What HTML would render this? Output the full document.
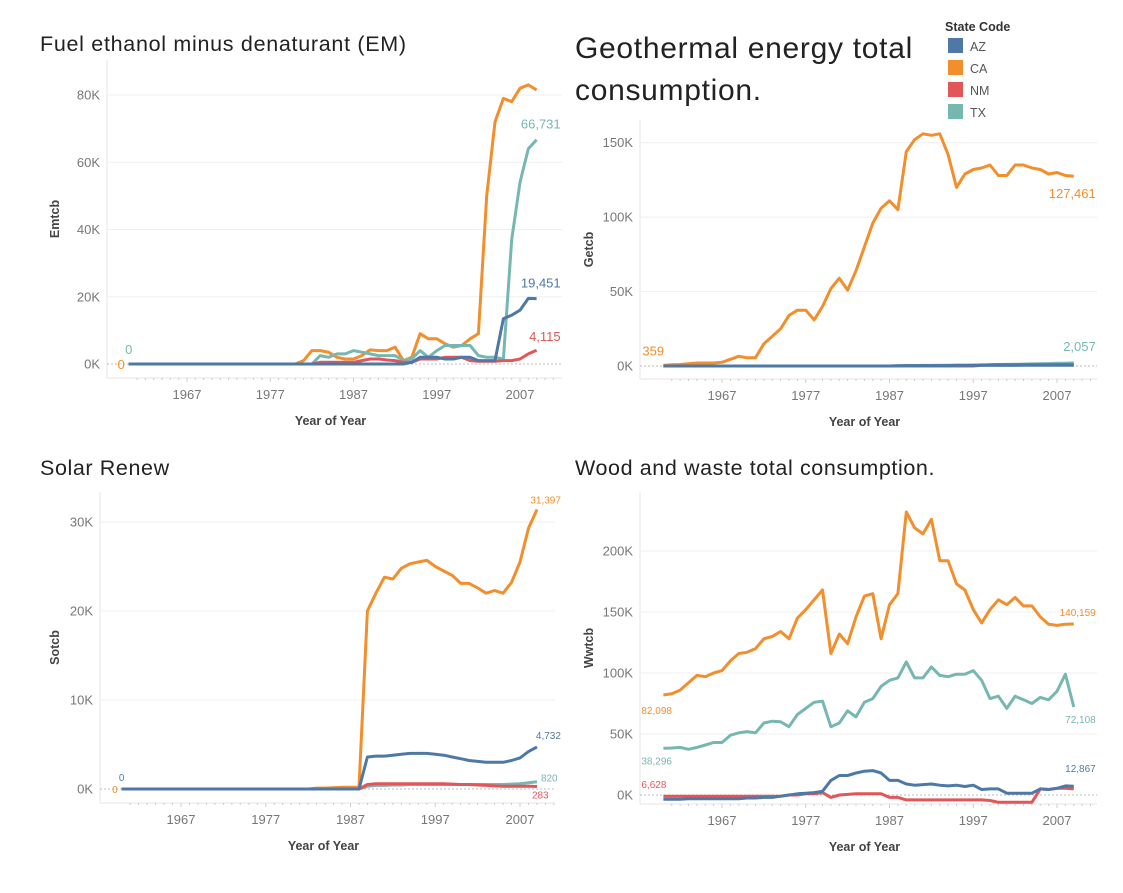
<!DOCTYPE html>
<html><head><meta charset="utf-8">
<style>
body{margin:0;background:#fff;width:1123px;height:893px;overflow:hidden;font-family:"Liberation Sans",sans-serif}
svg{position:absolute;left:0;top:0}
</style></head>
<body>
<svg id="chart" width="1123" height="893"></svg>
<script>
const years=[];for(let y=1960;y<=2009;y++)years.push(y);
const xTickYears=[1967,1977,1987,1997,2007];
const states=["AZ","CA","NM","TX"];
const colors={AZ:"#4e79a7",CA:"#f28e2b",NM:"#e15759",TX:"#76b7b2"};
// Ethanol (K)
const ethCA=[0,0,0,0,0,0,0,0,0,0,0,0,0,0,0,0,0,0,0,0,0,1,4,4,3.5,2,1.5,1.5,2.5,4.2,4,4,5,1,2,9,7.5,7.5,6,5,5.5,7.5,9,50,72,79,78,82,83,81.5];
const ethTX=[0,0,0,0,0,0,0,0,0,0,0,0,0,0,0,0,0,0,0,0,0,0,0,2.5,2,3,3,4,3.5,3,2.5,2.5,2.5,1,1.5,4,2,4,5.5,5.5,5.5,5.5,2.5,2,2,1.5,37,54,64,66.7];
const ethAZ=[0,0,0,0,0,0,0,0,0,0,0,0,0,0,0,0,0,0,0,0,0,0,0,0,0,0,0,0,0,0,0,0,0,0,0.5,2,2,2,1.5,1.5,2,2,1,1,1,13.5,14.5,16,19.5,19.45];
const ethNM=[0,0,0,0,0,0,0,0,0,0,0,0,0,0,0,0,0,0,0,0,0,0,0,0.5,0.5,0.5,0.5,0.5,1,1.5,1.5,1.2,1,0.5,0.5,1.5,1.5,1.5,2,2,2,1,0.8,0.8,0.8,1,1,1.5,3,4.1];
const ethTicks=[0,20,40,60,80];
// Geothermal (K)
const geoCA=[0.4,0.8,1,1.5,2,2,2,2.5,4.5,6.5,5.5,5.5,15,20,25,34,37.5,37.5,31,40,52,59,51,64,80,96,106,111,105,144,152,156,155,156,142,120,129,132,133,135,128,128,135,135,133,132,129,130,128,127.5];
const geoAZ=[0,0,0,0,0,0,0,0,0,0,0,0,0,0,0,0,0,0,0,0,0,0,0,0,0,0,0,0,0.2,0.3,0.3,0.3,0.3,0.3,0.3,0.4,0.4,0.4,0.4,0.4,0.4,0.4,0.4,0.5,0.5,0.5,0.5,0.5,0.5,0.5];
const geoNM=[0,0,0,0,0,0,0,0,0,0,0,0,0,0,0,0,0,0,0,0,0,0,0,0,0,0,0,0,0,0,0,0,0,0,0,0,0,0,0.5,0.8,1,1,1,1,1,1,1,1,1,1];
const geoTX=[0,0,0,0,0,0,0,0,0,0,0,0,0,0,0,0,0,0,0,0,0,0,0,0,0,0,0,0,0.2,0.3,0.3,0.4,0.4,0.5,0.5,0.6,0.6,0.7,0.8,0.9,1,1.1,1.2,1.3,1.4,1.5,1.6,1.8,1.9,2.06];
const geoTicks=[0,50,100,150];
// Solar (K)
const solCA=[0,0,0,0,0,0,0,0,0,0,0,0,0,0,0,0,0,0,0,0,0,0,0,0.1,0.1,0.15,0.2,0.2,0.2,20,22,23.8,23.6,24.8,25.3,25.5,25.7,25,24.5,24,23.1,23.1,22.6,22,22.3,22,23.2,25.5,29.3,31.4];
const solAZ=[0,0,0,0,0,0,0,0,0,0,0,0,0,0,0,0,0,0,0,0,0,0,0,0,0,0,0,0,0,3.6,3.7,3.7,3.8,3.9,4,4,4,3.9,3.8,3.6,3.4,3.2,3.1,3,3,3,3.2,3.5,4.2,4.73];
const solNM=[0,0,0,0,0,0,0,0,0,0,0,0,0,0,0,0,0,0,0,0,0,0,0,0,0,0,0,0,0,0.5,0.6,0.6,0.6,0.6,0.6,0.6,0.6,0.6,0.6,0.55,0.5,0.5,0.45,0.4,0.35,0.3,0.3,0.3,0.3,0.28];
const solTX=[0,0,0,0,0,0,0,0,0,0,0,0,0,0,0,0,0,0,0,0,0,0,0,0,0,0,0,0,0,0.3,0.4,0.4,0.45,0.45,0.5,0.5,0.5,0.5,0.5,0.5,0.5,0.5,0.5,0.5,0.5,0.5,0.55,0.6,0.7,0.82];
const solTicks=[0,10,20,30];
// Wood & waste (K)
const wwCA=[82,83,86,92,98,97,100,102,110,116,117,120,128,130,134,128,145,152,160,168,116,132,124,146,163,165,128,156,165,232,219,214,226,192,192,173,168,152,141,152,160,156,162,155,155,146,140,139,140,140.2];
const wwTX=[38.3,38.5,39,37.5,39,41,43,43,49,51,52,51,59,60.5,60,56,66,71,76,77,56,59,69,64,76,79,89,94,96,109,96,96,105,98,97,99,99,102,94,79,81,71,81,78,75,80,78,85,99,72.1];
const wwAZ=[-3.5,-3.5,-3.5,-3,-3,-3,-3,-3,-3,-3,-2.5,-2.5,-2,-2,-1,0,1,1.5,2,3,12,16,16,18,19.5,20,18,12,12,9,8,8.5,9,8,7.5,8,7,8,4.5,5,5,1.5,1.5,1.5,1.5,5,4.5,5.5,7.5,7.2];
const wwNM=[-1,-1,-1,-1,-1,-1,-1,-1,-1,-1,-1,-1,-1,-1,-1,0,0,1,1,2,-2,0,0.5,1,1,1,1,-2,-2,-4,-4,-4,-4,-4,-4,-4,-4,-4,-4,-4.5,-6,-6,-6,-6,-6,5,4.5,5.5,5.5,5];
const wwTicks=[0,50,100,150,200];

const NS="http://www.w3.org/2000/svg";
const root=document.getElementById('chart');
function el(tag,attrs,parent){const e=document.createElementNS(NS,tag);for(const k in attrs)e.setAttribute(k,attrs[k]);(parent||root).appendChild(e);return e;}

function drawChart(c){
  const g=el('g',{});
  
  
  const xs=v=>c.x0+(v-1967)*(c.x1-c.x0)/40;
  const ys=v=>c.y0+(v)*(c.yTop-c.y0)/c.topVal;
  c.title.forEach((t,i)=>{const tt=el('text',{x:c.tx,y:c.ty+i*c.tlh,'font-size':c.tfs,fill:'#222','letter-spacing':c.tls},g);tt.textContent=t;
    
    });
  el('line',{x1:c.px0,y1:c.ptop,x2:c.px0,y2:c.pbot,stroke:'#e6e6e6'},g);
  el('line',{x1:c.px0,y1:c.pbot,x2:c.px1,y2:c.pbot,stroke:'#e6e6e6'},g);
  c.ticks.forEach(v=>{
    const y=ys(v);
    if(v!==0)el('line',{x1:c.px0,y1:y,x2:c.px1,y2:y,stroke:'#efefef'},g);
    else el('line',{x1:c.px0,y1:y,x2:c.px1,y2:y,stroke:'#bbb','stroke-dasharray':'2,2'},g);
    const t=el('text',{x:c.px0-7,y:y+4.5,'text-anchor':'end','font-size':13,fill:'#777'},g);t.textContent=v+'K';
    
    
  });
  for(let yr=1961;yr<=2011;yr++){const x=xs(yr);if(x<c.px1&&x>c.px0)el('line',{x1:x,y1:c.pbot,x2:x,y2:c.pbot+((yr-1967)%10===0?4:2),stroke:'#ccc'},g);}
  xTickYears.forEach(yr=>{const t=el('text',{x:xs(yr),y:c.pbot+21,'text-anchor':'middle','font-size':13,fill:'#777'},g);t.textContent=yr;
    
    });
  const xt=el('text',{x:(c.px0+c.px1)/2-4,y:c.pbot+47,'text-anchor':'middle','font-size':12.5,'font-weight':'bold',fill:'#444'},g);xt.textContent='Year of Year';
  
  
  const yt=el('text',{x:0,y:0,'text-anchor':'middle','font-size':12.5,'font-weight':'bold',fill:'#444',transform:`translate(${c.ytx},${(c.ptop+c.pbot)/2}) rotate(-90)`},g);yt.textContent=c.ytitle;
  
  
  c.series.forEach(s=>{
    const d=s.vals.map((v,i)=>(i?'L':'M')+xs(years[i]).toFixed(1)+','+ys(v).toFixed(1)).join('');
    const p=el('path',{d:d,fill:'none',stroke:colors[s.st],'stroke-width':3,'stroke-linejoin':'round'},g);
    
    
  });
  c.labels.forEach(l=>{
    const s=c.series.find(q=>q.st===l.st);const i=l.end?s.vals.length-1:0;
    const t=el('text',{x:xs(years[i])+l.dx,y:ys(s.vals[i])+l.dy,'text-anchor':l.anchor,'font-size':c.lfs,fill:colors[l.st]},g);t.textContent=l.text;
    
    
  });
}

drawChart({name:'ethanol-chart',title:['Fuel ethanol minus denaturant (EM)'],tx:40,ty:51,tlh:0,tfs:21.5,tls:0.7,
 x0:187,x1:520,y0:364,yTop:95,topVal:80,px0:107,px1:562,ptop:60,pbot:378,ytx:59,ytitle:'Emtcb',ticks:ethTicks,lfs:13,
 series:[{st:'CA',vals:ethCA},{st:'TX',vals:ethTX},{st:'NM',vals:ethNM},{st:'AZ',vals:ethAZ}],
 labels:[{st:'TX',end:1,text:'66,731',dx:24,dy:-11,anchor:'end'},{st:'AZ',end:1,text:'19,451',dx:24,dy:-11,anchor:'end'},{st:'NM',end:1,text:'4,115',dx:24,dy:-9,anchor:'end'},
 {st:'CA',end:0,text:'0',dx:-4,dy:5,anchor:'end'},{st:'TX',end:0,text:'0',dx:0,dy:-10,anchor:'middle'}]});

drawChart({name:'geothermal-chart',title:['Geothermal energy total','consumption.'],tx:575,ty:58,tlh:42,tfs:30,tls:0.7,
 x0:722,x1:1057,y0:366,yTop:142.7,topVal:150,px0:640,px1:1097,ptop:120,pbot:379,ytx:593,ytitle:'Getcb',ticks:geoTicks,lfs:13,
 series:[{st:'CA',vals:geoCA},{st:'TX',vals:geoTX},{st:'NM',vals:geoNM},{st:'AZ',vals:geoAZ}],
 labels:[{st:'CA',end:1,text:'127,461',dx:22,dy:22,anchor:'end'},{st:'TX',end:1,text:'2,057',dx:22,dy:-12,anchor:'end'},{st:'CA',end:0,text:'359',dx:-21,dy:-10,anchor:'start'}]});

drawChart({name:'solar-chart',title:['Solar Renew'],tx:40,ty:475,tlh:0,tfs:21.5,tls:0.6,
 x0:181,x1:520,y0:789,yTop:522,topVal:30,px0:100,px1:555,ptop:492,pbot:803,ytx:59,ytitle:'Sotcb',ticks:solTicks,lfs:10,
 series:[{st:'CA',vals:solCA},{st:'TX',vals:solTX},{st:'NM',vals:solNM},{st:'AZ',vals:solAZ}],
 labels:[{st:'CA',end:1,text:'31,397',dx:24,dy:-6,anchor:'end'},{st:'AZ',end:1,text:'4,732',dx:24,dy:-8,anchor:'end'},{st:'TX',end:1,text:'820',dx:4,dy:0,anchor:'start'},{st:'NM',end:1,text:'283',dx:-5,dy:12,anchor:'start'},
 {st:'CA',end:0,text:'0',dx:-4,dy:4,anchor:'end'},{st:'AZ',end:0,text:'0',dx:0,dy:-8,anchor:'middle'}]});

drawChart({name:'wood-waste-chart',title:['Wood and waste total consumption.'],tx:575,ty:475,tlh:0,tfs:21.5,tls:0.6,
 x0:722,x1:1057,y0:795,yTop:551,topVal:200,px0:640,px1:1097,ptop:492,pbot:804,ytx:593,ytitle:'Wwtcb',ticks:wwTicks,lfs:10,
 series:[{st:'CA',vals:wwCA},{st:'TX',vals:wwTX},{st:'NM',vals:wwNM},{st:'AZ',vals:wwAZ}],
 labels:[{st:'CA',end:1,text:'140,159',dx:22,dy:-8,anchor:'end'},{st:'TX',end:1,text:'72,108',dx:22,dy:16,anchor:'end'},{st:'AZ',end:1,text:'12,867',dx:22,dy:-14,anchor:'end'},
 {st:'CA',end:0,text:'82,098',dx:-22,dy:19,anchor:'start'},{st:'TX',end:0,text:'38,296',dx:-22,dy:16,anchor:'start'},{st:'NM',end:0,text:'6,628',dx:-22,dy:-8,anchor:'start'}]});

const lg=el('g',{});


const lt=el('text',{x:945,y:31,'font-size':12.5,'font-weight':'bold',fill:'#333'},lg);lt.textContent='State Code';


states.forEach((s,i)=>{
  const r=el('rect',{x:948,y:38+i*22,width:15,height:15,fill:colors[s]},lg);
  
  
  const t=el('text',{x:970,y:51+i*22,'font-size':12.5,fill:'#555'},lg);t.textContent=s;
  
  
});
</script>
</body></html>
